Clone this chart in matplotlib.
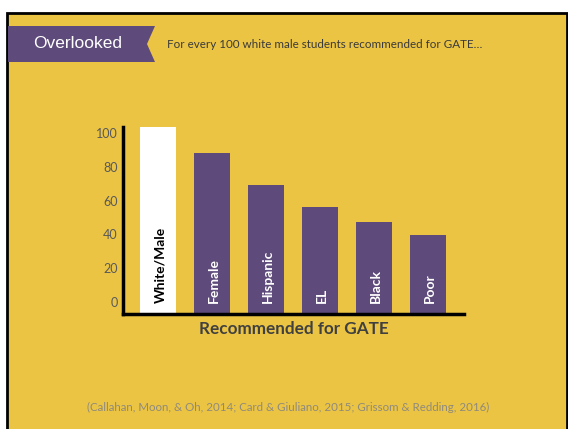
import matplotlib.pyplot as plt
from matplotlib.patches import Rectangle, Polygon

# data
groups = ["White/Male", "Female", "Hispanic", "EL", "Black", "Poor"]
recommended = [100, 86, 69, 57, 49, 42]
tick_vals = [0, 20, 40, 60, 80, 100]

yellow = "#EBC444"
purple = "#5E4A7B"
W, H = 568, 429

plt.rcParams['font.family'] = ['Lato', 'DejaVu Sans']

fig = plt.figure(figsize=(W / 100, H / 100), dpi=100)
fig.patch.set_facecolor("white")

def px(x, y):
    # pixel (top-left origin) -> figure fraction
    return (x / W, 1 - y / H)

# slide background with black frame
fig.add_artist(Rectangle(px(7, 430), 560 / W, 417 / H, transform=fig.transFigure,
                         facecolor=yellow, edgecolor="black", lw=2, zorder=0))

# ribbon header
ribbon = Polygon([px(8, 26), px(155, 26), px(147, 44), px(155, 62), px(8, 62)],
                 closed=True, transform=fig.transFigure, facecolor=purple,
                 edgecolor="none", zorder=1)
fig.add_artist(ribbon)
fig.text(*px(78, 44), "Overlooked", color="white", fontsize=12.5,
         family="Liberation Sans", ha="center", va="center")
fig.text(*px(167, 44), "For every 100 white male students recommended for GATE\u2026",
         color="#3a3a3a", fontsize=8.4, ha="left", va="center")

# bars
ax = fig.add_axes([123 / W, 1 - 314 / H, 341 / W, 187 / H])
ax.set_facecolor("none")
x = list(range(len(groups)))
colors = ["white"] + [purple] * (len(groups) - 1)
ax.bar(x, recommended, width=0.67, color=colors)
ax.set_xlim(-0.65, 5.67)
ax.set_ylim(0, 100)
for s in ["top", "right"]:
    ax.spines[s].set_visible(False)
for s in ["left", "bottom"]:
    ax.spines[s].set_linewidth(2.5)
ax.set_xticks([])
ax.set_yticks([])
for i, g in enumerate(groups):
    ax.annotate(g, (i, 0), xytext=(1.5, 8), textcoords="offset points",
                rotation=90, ha="center", va="bottom", fontsize=10,
                fontweight="bold", color="black" if i == 0 else "white")
ax.set_xlabel("Recommended for GATE", fontsize=12.3, fontweight="bold",
              color="#404040", labelpad=5)

# value axis labels
lab = fig.add_axes([123 / W, 1 - 302 / H, 341 / W, 169 / H])
lab.set_facecolor("none")
lab.set_ylim(0, 100)
lab.set_yticks(tick_vals)
lab.tick_params(axis="y", length=0, pad=4, labelsize=9, labelcolor="#595959")
lab.set_xticks([])
for s in lab.spines.values():
    s.set_visible(False)

fig.text(*px(288, 407),
         "(Callahan, Moon, & Oh, 2014; Card & Giuliano, 2015; Grissom & Redding, 2016)",
         color="#8f8a7c", fontsize=8.3, ha="center", va="center")

fig.savefig("out.png", dpi=100)
